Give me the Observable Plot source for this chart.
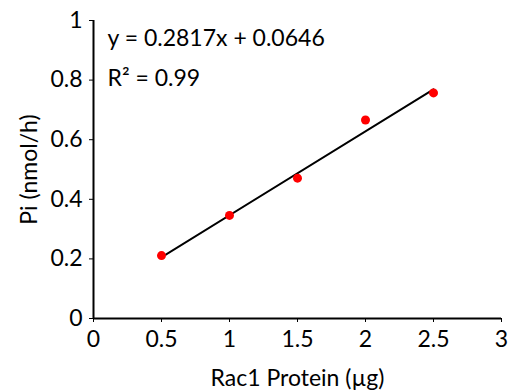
<!DOCTYPE html>
<html><head><meta charset="utf-8">
<script src="https://cdn.jsdelivr.net/npm/d3@7"></script>
<script src="https://cdn.jsdelivr.net/npm/@observablehq/plot@0.6"></script>
<style>body{margin:0;background:#fff}</style>
</head><body><div id="chart"></div>
<script>
const protein = [0.5, 1, 1.5, 2, 2.5];
const pi = [0.211, 0.346, 0.471, 0.666, 0.757];
const slope = 0.2817, intercept = 0.0646;
const fitX = [0.5, 2.5];
const xTicks = [0, 0.5, 1, 1.5, 2, 2.5, 3];
const yTicks = [0, 0.2, 0.4, 0.6, 0.8, 1];
const annotations = ["y = 0.2817x + 0.0646", "R² = 0.99"];

const pts = protein.map((x, i) => ({x, y: pi[i]}));
const fit = fitX.map(x => ({x, y: slope * x + intercept}));
const font = "Lato, 'Noto Sans', sans-serif";
const fs = 23;

const chart = Plot.plot({
  width: 520, height: 390,
  marginLeft: 93, marginRight: 19, marginTop: 20, marginBottom: 72,
  style: {fontFamily: font, fontSize: fs + "px", color: "#000", background: "#fff"},
  x: {domain: [0, 3], label: null},
  y: {domain: [0, 1], label: null},
  marks: [
    Plot.axisX({ticks: xTicks, tickSize: 4, tickPadding: 8, tickFormat: d => String(d), fontSize: fs, label: "Rac1 Protein (µg)", labelAnchor: "center", labelOffset: 67, labelArrow: "none"}),
    Plot.axisY({ticks: yTicks, tickSize: 4, tickPadding: 7, tickFormat: d => String(d), fontSize: fs, label: "Pi (nmol/h)", labelAnchor: "center", labelOffset: 73, labelArrow: "none"}),
    Plot.ruleX([0], {stroke: "#000", strokeWidth: 2}),
    Plot.ruleY([0], {stroke: "#000", strokeWidth: 2}),
    Plot.line(fit, {x: "x", y: "y", stroke: "#000", strokeWidth: 2}),
    Plot.dot(pts, {x: "x", y: "y", r: 4.5, fill: "#f00", stroke: "none"}),
    Plot.text([annotations[0]], {frameAnchor: "top-left", dx: 14, dy: 9, textAnchor: "start", fontSize: fs, fill: "#000"}),
    Plot.text([annotations[1]], {frameAnchor: "top-left", dx: 14, dy: 49, textAnchor: "start", fontSize: fs, fill: "#000"})
  ]
});
document.getElementById("chart").append(chart);
</script></body></html>
